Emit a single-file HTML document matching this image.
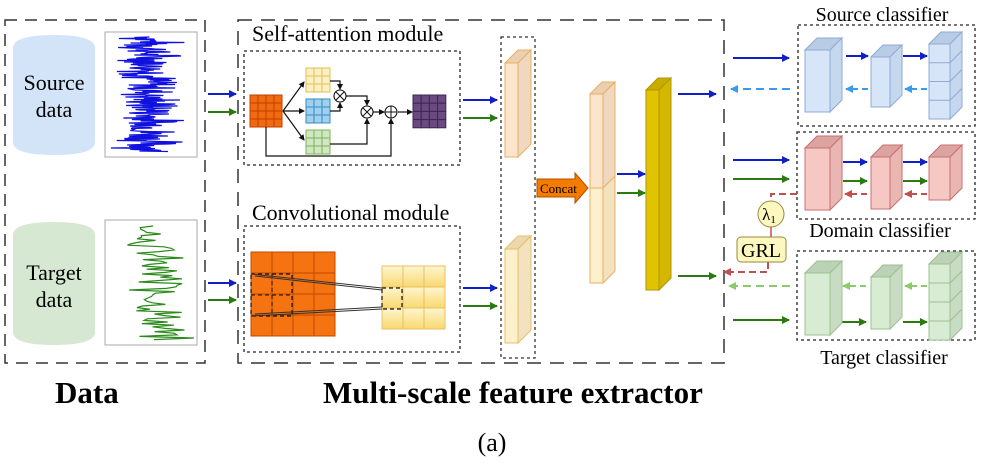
<!DOCTYPE html>
<html><head><meta charset="utf-8"><style>
html,body{margin:0;padding:0;background:#fff;}
svg{display:block;font-family:"Liberation Serif",serif;}
</style></head><body>
<svg id="s" width="984" height="471" viewBox="0 0 984 471" xmlns="http://www.w3.org/2000/svg">
<defs>
<marker id="ab" markerWidth="8" markerHeight="8" refX="7" refY="4" orient="auto" markerUnits="userSpaceOnUse"><path d="M0,0 L8,4 L0,8 z" fill="#1020c8"/></marker>
<marker id="ag" markerWidth="8" markerHeight="8" refX="7" refY="4" orient="auto" markerUnits="userSpaceOnUse"><path d="M0,0 L8,4 L0,8 z" fill="#2a7a10"/></marker>
<marker id="alb" markerWidth="8" markerHeight="8" refX="7" refY="4" orient="auto" markerUnits="userSpaceOnUse"><path d="M0,0 L8,4 L0,8 z" fill="#3a9af0"/></marker>
<marker id="alg" markerWidth="8" markerHeight="8" refX="7" refY="4" orient="auto" markerUnits="userSpaceOnUse"><path d="M0,0 L8,4 L0,8 z" fill="#8acb6a"/></marker>
<marker id="ar" markerWidth="8" markerHeight="8" refX="7" refY="4" orient="auto" markerUnits="userSpaceOnUse"><path d="M0,0 L8,4 L0,8 z" fill="#c05050"/></marker>
<marker id="ak" markerWidth="6" markerHeight="6" refX="5" refY="3" orient="auto" markerUnits="userSpaceOnUse"><path d="M0,0 L6,3 L0,6 z" fill="#111"/></marker>
<linearGradient id="yg" x1="0" y1="0" x2="0" y2="1"><stop offset="0" stop-color="#fff6d0"/><stop offset="1" stop-color="#f8d870"/></linearGradient>
</defs>

<rect x="5" y="20" width="200" height="343" fill="none" stroke="#333" stroke-width="1.5" stroke-dasharray="12,8"/>
<path d="M13,48 Q13,35 54,35 Q95,35 95,48 L95,142 Q95,155 54,155 Q13,155 13,142 Z" fill="#d3e4f8"/>
<text x="54" y="90" font-size="22" text-anchor="middle">Source</text>
<text x="54" y="117" font-size="22" text-anchor="middle">data</text>
<path d="M13,235 Q13,222 54,222 Q95,222 95,235 L95,332 Q95,345 54,345 Q13,345 13,332 Z" fill="#d6e8d2"/>
<text x="54" y="280" font-size="22" text-anchor="middle">Target</text>
<text x="54" y="307" font-size="22" text-anchor="middle">data</text>
<rect x="105" y="32" width="92" height="125" fill="#fff" stroke="#aaa"/>
<rect x="105" y="220" width="92" height="125" fill="#fff" stroke="#aaa"/>
<polyline id="wb" fill="none" stroke="#1010e0" stroke-width="1.2"/>
<polyline id="wg" fill="none" stroke="#2a8a1a" stroke-width="1.2"/>

<line x1="208" y1="94" x2="236" y2="94" stroke="#1020c8" stroke-width="2" marker-end="url(#ab)"/>
<line x1="208" y1="112" x2="236" y2="112" stroke="#2a7a10" stroke-width="2" marker-end="url(#ag)"/>
<line x1="208" y1="283" x2="236" y2="283" stroke="#1020c8" stroke-width="2" marker-end="url(#ab)"/>
<line x1="208" y1="300" x2="236" y2="300" stroke="#2a7a10" stroke-width="2" marker-end="url(#ag)"/>

<rect x="238" y="20" width="486" height="343" fill="none" stroke="#333" stroke-width="1.5" stroke-dasharray="14,9"/>

<text x="252" y="41" font-size="22">Self-attention module</text>
<rect x="244" y="51" width="216" height="114" fill="none" stroke="#222" stroke-width="1.3" stroke-dasharray="3,3"/>
<g id="sa"></g>
<line x1="283" y1="111" x2="304" y2="82" stroke="#111" stroke-width="1.2" marker-end="url(#ak)"/>
<line x1="283" y1="111" x2="304" y2="111" stroke="#111" stroke-width="1.2" marker-end="url(#ak)"/>
<line x1="283" y1="111" x2="304" y2="140" stroke="#111" stroke-width="1.2" marker-end="url(#ak)"/>
<polyline points="330,81 340,81 340,89" fill="none" stroke="#111" stroke-width="1.2" marker-end="url(#ak)"/>
<polyline points="330,111 340,111 340,103" fill="none" stroke="#111" stroke-width="1.2" marker-end="url(#ak)"/>
<polyline points="346,96 367,96 367,105" fill="none" stroke="#111" stroke-width="1.2" marker-end="url(#ak)"/>
<polyline points="330,144 367,144 367,119" fill="none" stroke="#111" stroke-width="1.2" marker-end="url(#ak)"/>
<line x1="373" y1="112" x2="384" y2="112" stroke="#111" stroke-width="1.2" marker-end="url(#ak)"/>
<line x1="398" y1="112" x2="412" y2="112" stroke="#111" stroke-width="1.2" marker-end="url(#ak)"/>
<polyline points="266,127 266,156 391,156 391,119" fill="none" stroke="#111" stroke-width="1.2" marker-end="url(#ak)"/>
<g fill="#fff" stroke="#111" stroke-width="1.1">
<circle cx="340" cy="96" r="6"/><circle cx="367" cy="112" r="6"/><circle cx="391" cy="112" r="6"/></g>
<g stroke="#111" stroke-width="1">
<path d="M336,92 l8,8 M344,92 l-8,8 M363,108 l8,8 M371,108 l-8,8 M385,112 h12 M391,106 v12"/></g>

<text x="252" y="220" font-size="22">Convolutional module</text>
<rect x="244" y="226" width="216" height="126" fill="none" stroke="#222" stroke-width="1.3" stroke-dasharray="3,3"/>
<g id="cv"></g>
<rect x="251" y="274" width="41" height="42" fill="none" stroke="#111" stroke-width="1.2" stroke-dasharray="4,3"/>
<line x1="272" y1="274" x2="272" y2="316" stroke="#111" stroke-dasharray="4,3"/>
<line x1="251" y1="295" x2="292" y2="295" stroke="#111" stroke-dasharray="4,3"/>
<rect x="382" y="288" width="20" height="21" fill="none" stroke="#111" stroke-width="1.2" stroke-dasharray="4,3"/>
<path d="M251,274 L382,288 M255,276 L382,290 M251,316 L382,309 M255,314 L382,307" stroke="#333" stroke-width="1"/>

<line x1="463" y1="100" x2="497" y2="100" stroke="#1020c8" stroke-width="2" marker-end="url(#ab)"/>
<line x1="463" y1="118" x2="497" y2="118" stroke="#2a7a10" stroke-width="2" marker-end="url(#ag)"/>
<line x1="463" y1="288" x2="497" y2="288" stroke="#1020c8" stroke-width="2" marker-end="url(#ab)"/>
<line x1="463" y1="306" x2="497" y2="306" stroke="#2a7a10" stroke-width="2" marker-end="url(#ag)"/>

<rect x="501" y="37" width="34" height="321" fill="none" stroke="#333" stroke-width="1.3" stroke-dasharray="3,3"/>
<g id="pr"></g>

<path d="M537,179 L575,179 L575,173 L588,188 L575,203 L575,197 L537,197 Z" fill="#f47a00" stroke="#b05000"/>
<text x="540" y="193" font-size="13">Concat</text>

<line x1="617" y1="174" x2="645" y2="174" stroke="#1020c8" stroke-width="2" marker-end="url(#ab)"/>
<line x1="617" y1="193" x2="645" y2="193" stroke="#2a7a10" stroke-width="2" marker-end="url(#ag)"/>
<line x1="678" y1="94" x2="716" y2="94" stroke="#1020c8" stroke-width="2" marker-end="url(#ab)"/>
<line x1="678" y1="276" x2="716" y2="276" stroke="#2a7a10" stroke-width="2" marker-end="url(#ag)"/>

<text x="882" y="21" font-size="20" text-anchor="middle">Source classifier</text>
<rect x="798" y="25" width="177" height="101" fill="none" stroke="#222" stroke-width="1.3" stroke-dasharray="3,3"/>
<rect x="797" y="132" width="178" height="87" fill="none" stroke="#222" stroke-width="1.3" stroke-dasharray="3,3"/>
<text x="880" y="237" font-size="20" text-anchor="middle">Domain classifier</text>
<rect x="797" y="251" width="178" height="89" fill="none" stroke="#222" stroke-width="1.3" stroke-dasharray="3,3"/>
<text x="884" y="364" font-size="20" text-anchor="middle">Target classifier</text>

<line x1="733" y1="58" x2="789" y2="58" stroke="#1020c8" stroke-width="2" marker-end="url(#ab)"/>
<line x1="790" y1="89" x2="731" y2="89" stroke="#3a9af0" stroke-width="2" stroke-dasharray="8,5" marker-end="url(#alb)"/>
<line x1="733" y1="160" x2="789" y2="160" stroke="#1020c8" stroke-width="2" marker-end="url(#ab)"/>
<line x1="733" y1="179" x2="789" y2="179" stroke="#2a7a10" stroke-width="2" marker-end="url(#ag)"/>
<polyline points="797,194 771,194 771,202" fill="none" stroke="#c05050" stroke-width="2" stroke-dasharray="7,4"/>
<line x1="771" y1="226" x2="771" y2="237" stroke="#c05050" stroke-width="1.5"/>
<polyline points="768,262 768,272 724,272" fill="none" stroke="#c05050" stroke-width="2" stroke-dasharray="7,4" marker-end="url(#ar)"/>
<circle cx="771" cy="214" r="13" fill="#fdf7c0" stroke="#9a8a40"/>
<text x="769" y="220" font-size="17" text-anchor="middle">λ<tspan font-size="11" dy="3">1</tspan></text>
<rect x="737" y="237" width="49" height="25" rx="4" fill="#fdf7c0" stroke="#9a8a40"/>
<text x="761" y="257" font-size="20" text-anchor="middle">GRL</text>
<line x1="790" y1="286" x2="729" y2="286" stroke="#8acb6a" stroke-width="2" stroke-dasharray="8,5" marker-end="url(#alg)"/>
<line x1="733" y1="320" x2="789" y2="320" stroke="#2a7a10" stroke-width="2" marker-end="url(#ag)"/>
<g id="cl"></g>

<text x="55" y="403" font-size="31" font-weight="bold">Data</text>
<text x="323" y="403" font-size="31" font-weight="bold">Multi-scale feature extractor</text>
<text x="492" y="451" font-size="26" text-anchor="middle">(a)</text>
</svg>
<script>
var NS="http://www.w3.org/2000/svg";
function el(p,t,a){var e=document.createElementNS(NS,t);for(var k in a)e.setAttribute(k,a[k]);document.getElementById(p).appendChild(e);return e;}
function grid(p,x,y,n,c,fill,stroke){for(var i=0;i<n;i++)for(var j=0;j<n;j++)el(p,"rect",{x:x+j*c,y:y+i*c,width:c,height:c,fill:fill,stroke:stroke,"stroke-width":1});}
grid("sa",250,95,4,8,"#f26a10","#c04000");
grid("sa",306,68,3,8,"#fdf0c0","#e0c060");
grid("sa",306,99,3,8,"#9fd0ee","#3a8ac0");
grid("sa",306,130,3,8,"#cfe8c0","#80b060");
grid("sa",413,95,4,8.2,"#6a4a80","#3a2a50");
grid("cv",251,252,4,21,"#f57310","#c04a00");
grid("cv",382,266,3,21,"url(#yg)","#e8c060");
function prism(p,x,y,w,h,d,f1,f2,f3,st,n){
el(p,"path",{d:"M"+x+","+y+" l"+d+","+(-d)+" h"+w+" l"+(-d)+","+d+" z",fill:f3,stroke:st});
el(p,"path",{d:"M"+(x+w)+","+y+" l"+d+","+(-d)+" v"+h+" l"+(-d)+","+d+" z",fill:f2,stroke:st});
el(p,"rect",{x:x,y:y,width:w,height:h,fill:f1,stroke:st});
if(n){for(var i=1;i<n;i++){var yy=y+i*h/n;el(p,"path",{d:"M"+x+","+yy+" h"+w+" l"+d+","+(-d),fill:"none",stroke:st});}}}
prism("pr",505,63,13,94,13,"#fde4cc","#f0d8c0","#ead0b0","#e8b060");
prism("pr",505,249,13,94,13,"#fdf0cc","#f2e2c0","#ecd8b0","#e8c060");
prism("pr",590,94,13,189,12,"#fdf0cc","#f2e2c0","#ead0b0","#e8b060");
el("pr","rect",{x:590,y:94,width:13,height:94,fill:"#fde4cc",stroke:"#e8b060"});
el("pr","path",{d:"M603,188 l12,-12 V82 l-12,12 z",fill:"#f0d8c0",stroke:"#e8b060"});
prism("pr",646,90,13,200,12,"#e0c400","#d4b800","#c8ac00","#b09600");
var B=["#d6e6f8","#c6d8ee","#b8cce6","#90aad6"],R=["#f6c8c4","#eab6b2","#dca4a0","#c87070"],G=["#d8ecd4","#c8dcc4","#bcd2b6","#9cc090"];
function cls(y1,y2,y3,C,stack){
prism("cl",805,y1[0],25,y1[1],12,C[0],C[1],C[2],C[3]);
prism("cl",871,y2[0],19,y2[1],12,C[0],C[1],C[2],C[3]);
prism("cl",929,y3[0],21,y3[1],12,C[0],C[1],C[2],C[3],stack?4:0);}
el("cl","line",{x1:846,y1:56,x2:868,y2:56,stroke:"#1020c8","stroke-width":2,"marker-end":"url(#ab)"});
el("cl","line",{x1:903,y1:56,x2:927,y2:56,stroke:"#1020c8","stroke-width":2,"marker-end":"url(#ab)"});
el("cl","line",{x1:868,y1:89,x2:846,y2:89,stroke:"#3a9af0","stroke-width":2,"stroke-dasharray":"6,4","marker-end":"url(#alb)"});
el("cl","line",{x1:927,y1:89,x2:905,y2:89,stroke:"#3a9af0","stroke-width":2,"stroke-dasharray":"6,4","marker-end":"url(#alb)"});
cls([50,62],[57,50],[44,75],B,true);
el("cl","line",{x1:843,y1:162,x2:867,y2:162,stroke:"#1020c8","stroke-width":2,"marker-end":"url(#ab)"});
el("cl","line",{x1:903,y1:162,x2:927,y2:162,stroke:"#1020c8","stroke-width":2,"marker-end":"url(#ab)"});
el("cl","line",{x1:843,y1:181,x2:867,y2:181,stroke:"#2a7a10","stroke-width":2,"marker-end":"url(#ag)"});
el("cl","line",{x1:903,y1:181,x2:927,y2:181,stroke:"#2a7a10","stroke-width":2,"marker-end":"url(#ag)"});
el("cl","line",{x1:867,y1:194,x2:845,y2:194,stroke:"#c05050","stroke-width":2,"stroke-dasharray":"6,4","marker-end":"url(#ar)"});
el("cl","line",{x1:927,y1:194,x2:905,y2:194,stroke:"#c05050","stroke-width":2,"stroke-dasharray":"6,4","marker-end":"url(#ar)"});
cls([148,62],[157,52],[157,43],R,false);
el("cl","line",{x1:866,y1:286,x2:843,y2:286,stroke:"#8acb6a","stroke-width":2,"stroke-dasharray":"6,4","marker-end":"url(#alg)"});
el("cl","line",{x1:927,y1:286,x2:905,y2:286,stroke:"#8acb6a","stroke-width":2,"stroke-dasharray":"6,4","marker-end":"url(#alg)"});
el("cl","line",{x1:840,y1:322,x2:866,y2:322,stroke:"#2a7a10","stroke-width":2,"marker-end":"url(#ag)"});
el("cl","line",{x1:903,y1:322,x2:927,y2:322,stroke:"#2a7a10","stroke-width":2,"marker-end":"url(#ag)"});
cls([273,62],[277,52],[264,76],G,true);
var s=7;function r(){s=(s*9301+49297)%233280;return s/233280;}
var p=[];for(var y=37;y<152;y+=0.5){var a=(r()-0.5)*2;p.push((150+a*(14+r()*26)).toFixed(1)+","+y.toFixed(1));}
document.getElementById("wb").setAttribute("points",p.join(" "));
p=[];for(var y=226;y<340;y+=1.6){var t=(y-226)/114;var c=150+t*12;var a=(r()-0.5)*2;var amp=t<0.1?10:(Math.abs(y-280)<6?42:16+r()*18);p.push((c+a*amp).toFixed(1)+","+y.toFixed(1));}
document.getElementById("wg").setAttribute("points",p.join(" "));
</script>
</body></html>
